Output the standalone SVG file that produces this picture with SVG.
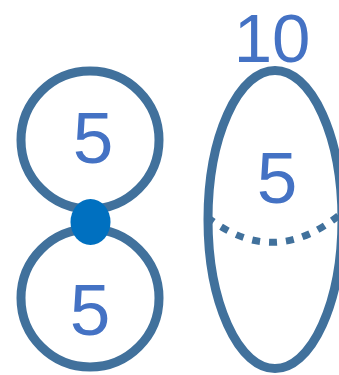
<svg xmlns="http://www.w3.org/2000/svg" width="339" height="375" viewBox="0 0 339 375">
<style>
.ring{fill:none;stroke:#41719C;stroke-width:9}
.lbl{font-family:"Liberation Sans",Arial,sans-serif;font-size:73px;fill:#4472C4;text-anchor:middle}
</style>
<rect width="339" height="375" fill="#fff"/>
<g id="top-circle"><circle class="ring" cx="90" cy="140" r="69"/><text class="lbl" x="93" y="163">5</text></g>
<g id="bottom-circle"><circle class="ring" cx="90" cy="298" r="69"/><text class="lbl" x="90" y="335">5</text></g>
<g id="joint"><ellipse cx="90.5" cy="222" rx="20" ry="23" fill="#0070C0"/></g>
<g id="ellipse"><ellipse class="ring" cx="275" cy="219.5" rx="67" ry="149"/><text class="lbl" x="277" y="203">5</text></g>
<g id="connectors"><path d="M207 217 Q275 270 343 212" fill="none" stroke="#41719C" stroke-width="7" stroke-dasharray="8 9"/></g>
<text class="lbl" x="272" y="62" style="font-size:69px">10</text>
</svg>
